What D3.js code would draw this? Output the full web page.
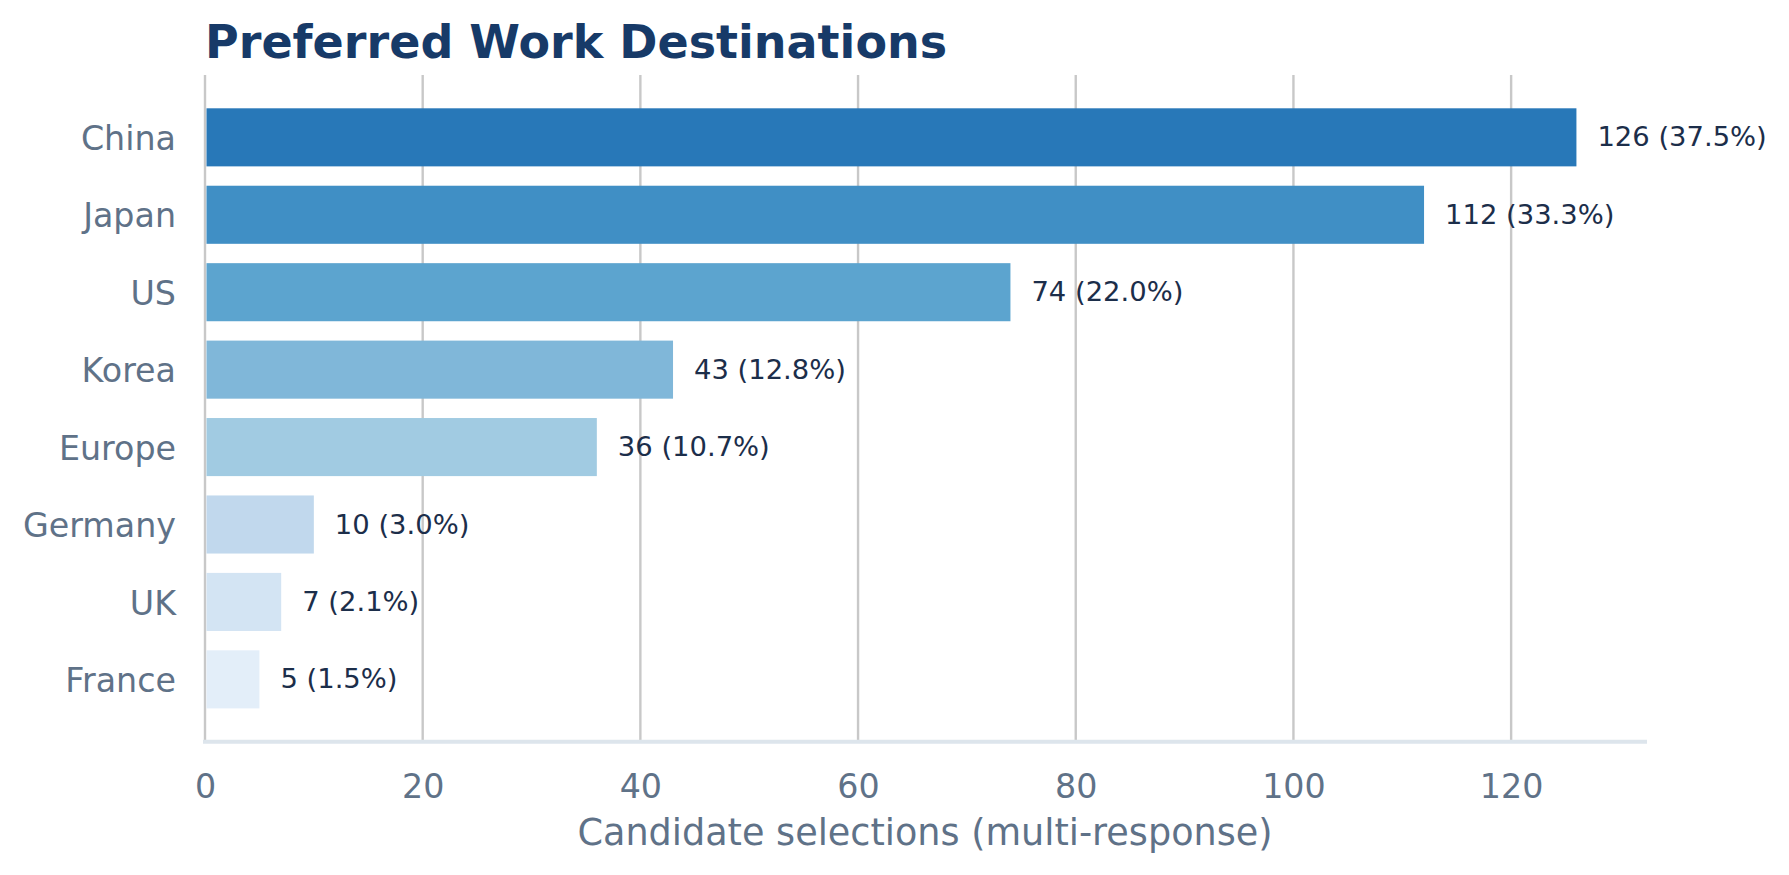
<!DOCTYPE html>
<html>
<head>
<meta charset="utf-8">
<script src="https://cdn.jsdelivr.net/npm/d3@7"></script>
<style>
	body { margin: 0; background: #ffffff; }
	text { font-family: "DejaVu Sans", sans-serif; }
</style>
</head>
<body>
<div class="container"></div>
<script>
// data
var countries = ["China", "Japan", "US", "Korea", "Europe", "Germany", "UK", "France"];
var selections = [126, 112, 74, 43, 36, 10, 7, 5];
var shares = [37.5, 33.3, 22.0, 12.8, 10.7, 3.0, 2.1, 1.5];
var xTicks = [0, 20, 40, 60, 80, 100, 120];

// bar colours, darkest first
var barColors = ["#2878b8", "#408fc5", "#5ca4cf", "#80b7d9", "#a1cbe2", "#c1d8ed", "#d3e4f3", "#e3eef9"];

var W = 1789, H = 875;
// note: "top" is taken by window.top, so plot edges get their own names
var plotL = 205, plotR = 1645, plotT = 75, plotB = 741.7;

function makeStage(w, h) {
	var stage = d3.select(".container")
	.append("svg")
	.attr("width", w)
	.attr("height", h);
	stage.append("rect").attr("width", w).attr("height", h).style("fill", "#ffffff");
	return stage;
}

var svg = makeStage(W, H);

var x = d3.scaleLinear()
	.domain([0, d3.max(selections) * 1.05])
	.range([plotL, plotR]);

var y = d3.scaleBand()
	.domain(countries)
	.range([plotT, plotB])
	.paddingInner(0.25)
	.paddingOuter(0.43);

// vertical grid behind the bars
svg.append("g")
	.selectAll("line")
	.data(xTicks)
	.join("line")
	.attr("x1", function(d) { return x(d); })
	.attr("x2", function(d) { return x(d); })
	.attr("y1", plotT)
	.attr("y2", plotB)
	.style("stroke", "#c8c8c8")
	.style("stroke-width", "2.4px");

// bars
svg.append("g")
	.selectAll("rect")
	.data(countries)
	.join("rect")
	.attr("x", x(0) + 1.5)
	.attr("y", function(d) { return y(d); })
	.attr("width", function(d, i) { return x(selections[i]) - x(0) - 1.5; })
	.attr("height", y.bandwidth())
	.style("fill", function(d, i) { return barColors[i]; });

// value labels
svg.append("g")
	.selectAll("text")
	.data(countries)
	.join("text")
	.attr("x", function(d, i) { return x(selections[i]) + 21; })
	.attr("y", function(d) { return y(d) + y.bandwidth() / 2; })
	.attr("dy", "0.33em")
	.style("font-size", "27.4px")
	.style("fill", "#1c2e4a")
	.text(function(d, i) { return selections[i] + " (" + shares[i].toFixed(1) + "%)"; });

// category labels
var yAxis = svg.append("g")
	.attr("transform", "translate(" + (plotL - 29) + ",0)")
	.call(d3.axisLeft(y).tickSize(0).tickPadding(0));
yAxis.select(".domain").remove();
yAxis.selectAll("text")
	.attr("dy", "0.38em")
	.style("font-size", "33.3px")
	.style("font-family", "DejaVu Sans")
	.style("fill", "#5f7288");

// bottom axis line
svg.append("line")
	.attr("x1", plotL - 2)
	.attr("x2", plotR + 2)
	.attr("y1", plotB)
	.attr("y2", plotB)
	.style("stroke", "#dde5ec")
	.style("stroke-width", "4px");

// x tick labels
var xAxis = svg.append("g")
	.attr("transform", "translate(0," + (plotB + 31) + ")")
	.call(d3.axisBottom(x).tickValues(xTicks).tickSize(0).tickPadding(0));
xAxis.select(".domain").remove();
xAxis.selectAll("text")
	.attr("dy", "0.76em")
	.style("font-size", "33.3px")
	.style("font-family", "DejaVu Sans")
	.style("fill", "#5f7288");

// axis title
svg.append("text")
	.attr("x", (plotL + plotR) / 2)
	.attr("y", 845)
	.attr("text-anchor", "middle")
	.style("font-size", "36.6px")
	.style("fill", "#5f7288")
	.text("Candidate selections (multi-response)");

// chart title
svg.append("text")
	.attr("x", plotL)
	.attr("y", 58)
	.style("font-size", "46px")
	.style("font-weight", "bold")
	.style("fill", "#173a68")
	.text("Preferred Work Destinations");
</script>
</body>
</html>
